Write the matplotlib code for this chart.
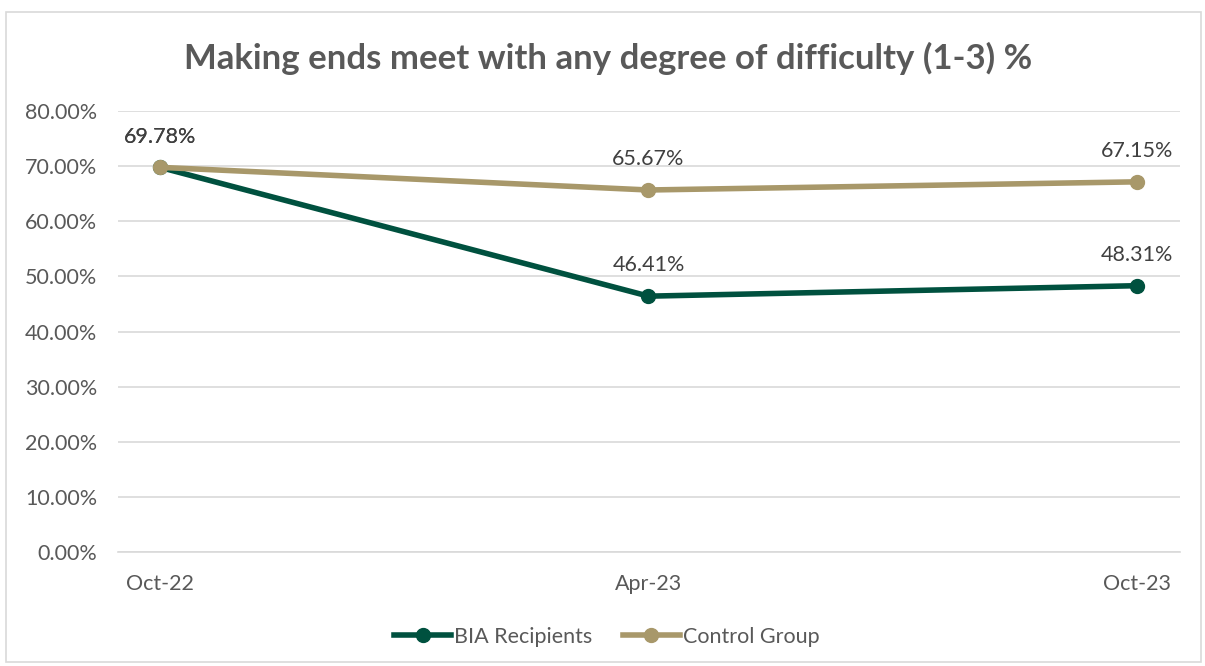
import matplotlib.pyplot as plt
from matplotlib.patches import Rectangle
from matplotlib.ticker import FuncFormatter

plt.rcParams['font.family'] = ['Lato', 'DejaVu Sans']

periods = ['Oct-22', 'Apr-23', 'Oct-23']
bia = [69.78, 46.41, 48.31]
control = [69.78, 65.67, 67.15]

green = '#00513F'
tan = '#A8986A'
grey_text = '#595959'

fig = plt.figure(figsize=(12.05, 6.66), dpi=100)
ax = fig.add_axes([118 / 1205, 1 - 552 / 666, 1062 / 1205, 441 / 666])

x = range(len(periods))
ax.plot(x, bia, color=green, lw=4, marker='o', ms=10, label='BIA Recipients', zorder=3)
ax.plot(x, control, color=tan, lw=4, marker='o', ms=10, label='Control Group', zorder=4)

# value labels above every point (both series share the first one)
for series in (bia, control):
    for xi, v in zip(x, series):
        ax.annotate(f'{v:.2f}%', (xi, v), xytext=(0, 15), textcoords='offset points',
                    ha='center', va='bottom', fontsize=15.5, color='#404040')

ax.set_ylim(0, 80)
ax.set_yticks(range(0, 81, 10))
ax.yaxis.set_major_formatter(FuncFormatter(lambda v, p: f'{v:.2f}%'))
ax.set_xlim(-42 / 488, 2 + 43 / 488)
ax.set_xticks(list(x))
ax.set_xticklabels(periods)
ax.grid(axis='y', color='#D9D9D9', lw=1.2)
ax.set_axisbelow(True)
for s in ['top', 'right', 'left']:
    ax.spines[s].set_visible(False)
ax.spines['bottom'].set_color('#D9D9D9')
ax.spines['bottom'].set_linewidth(1.2)
ax.tick_params(length=0, labelsize=15.5, labelcolor=grey_text)
ax.tick_params(axis='x', pad=16)
ax.tick_params(axis='y', pad=15)

fig.text(0.505, 1 - 58 / 666, 'Making ends meet with any degree of difficulty (1-3) %',
         ha='center', va='center', fontsize=25, fontweight='bold', color=grey_text)

fig.legend(loc='center', bbox_to_anchor=(607 / 1205, 1 - 637 / 666), ncol=2, frameon=False,
           fontsize=15.5, labelcolor=grey_text, handlelength=2.65, handletextpad=0.15,
           columnspacing=1.4)

fig.patches.append(Rectangle((6 / 1205, 1 - 662 / 666), 1195 / 1205, 650 / 666,
                             transform=fig.transFigure, fill=False,
                             edgecolor='#D9D9D9', lw=1.2))

fig.savefig('out.png', dpi=100, facecolor='white')
